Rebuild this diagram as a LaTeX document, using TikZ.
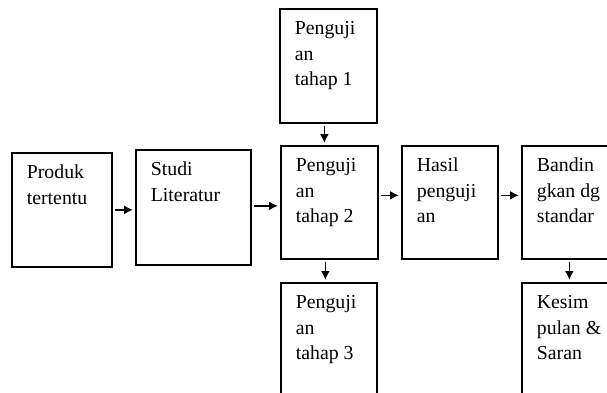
\documentclass[tikz,border=0pt]{standalone}
\usepackage{fontspec}
\setmainfont{Liberation Serif}
\usetikzlibrary{arrows.meta,calc}

% text block of a step: top-aligned, fixed height, first baseline 26pt below the top
\newcommand\steptext[3]{\parbox[t][#2][t]{#1}{\raggedright\rule{0pt}{26pt}#3}}

\tikzset{
  stepbox/.style={draw, line width=1.7pt, anchor=north west, inner xsep=15pt,
    inner ysep=0pt, font=\fontsize{19.8}{25.5}\selectfont},
  flow/.style={-{Latex[length=9pt,width=9pt]}, line width=1.6pt,
    shorten <=2pt, shorten >=2pt}
}

\begin{document}
\begin{tikzpicture}[x=1pt,y=-1pt]
\useasboundingbox (0,0) rectangle (607,393);
\clip (0,0) rectangle (607,393);

\node[stepbox] (prod)  at (11,152)  {\steptext{70pt}{114pt}{Produk\\tertentu}};
\node[stepbox] (studi) at (135,149) {\steptext{85pt}{115pt}{Studi\\Literatur}};
\node[stepbox] (t1)    at (279,8)   {\steptext{67pt}{114pt}{Penguji\\an\\tahap 1}};
\node[stepbox] (t2)    at (280,145) {\steptext{67pt}{113pt}{Penguji\\an\\tahap 2}};
\node[stepbox] (t3)    at (280,282) {\steptext{66pt}{130pt}{Penguji\\an\\tahap 3}};
\node[stepbox] (hasil) at (401,145) {\steptext{66pt}{113pt}{Hasil\\penguji\\an}};
\node[stepbox] (band)  at (521,145) {\steptext{67pt}{113pt}{Bandin\\gkan dg\\standar}};
\node[stepbox] (kes)   at (521,282) {\steptext{67pt}{130pt}{Kesim\\pulan \&\\Saran}};

\draw[flow] (prod.east) -- (prod.east -| studi.west);
\draw[flow] ([yshift=1.5pt]studi.east) -- ([yshift=1.5pt]studi.east -| t2.west);
\draw[flow] ([yshift=7pt]t2.east) -- ([yshift=7pt]t2.east -| hasil.west);
\draw[flow] ([yshift=7pt]hasil.east) -- ([yshift=7pt]hasil.east -| band.west);
\draw[flow] ([xshift=-4pt]t1.south) -- ([xshift=-4pt]t1.south |- t2.north);
\draw[flow] ([xshift=-4pt]t2.south) -- ([xshift=-4pt]t2.south |- t3.north);
\draw[flow] ([xshift=-1pt]band.south) -- ([xshift=-1pt]band.south |- kes.north);
\end{tikzpicture}
\end{document}
